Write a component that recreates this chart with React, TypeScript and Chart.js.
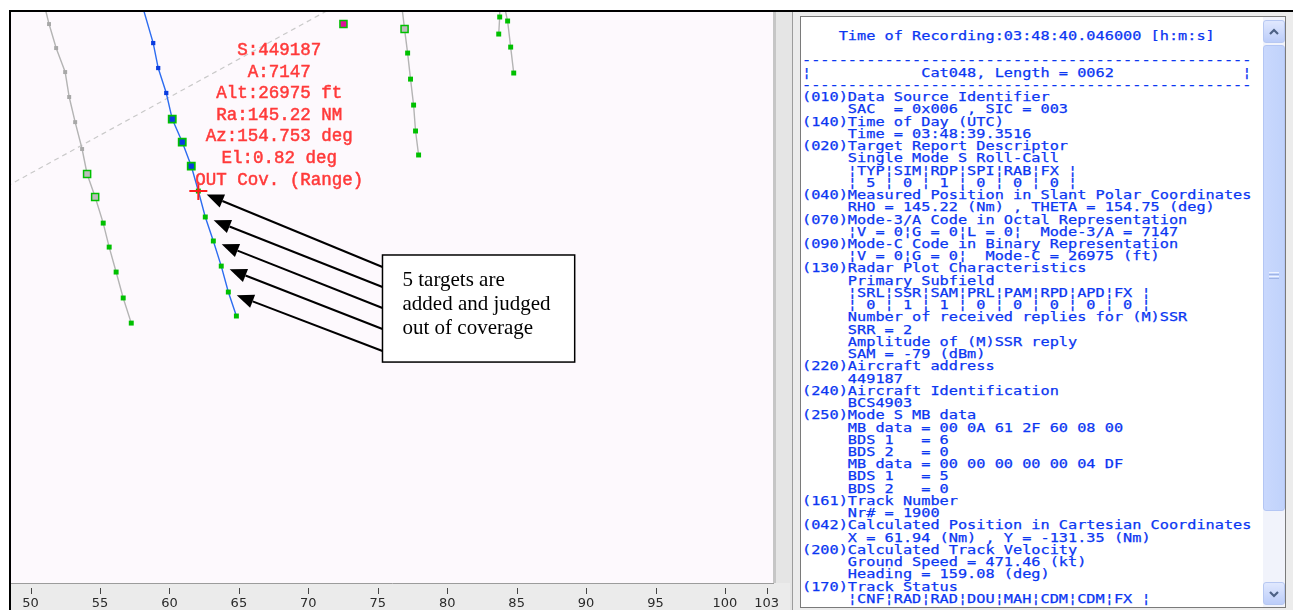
import React, { useEffect, useRef } from "react";
import { Chart, registerables } from "chart.js";

Chart.register(...registerables);

// ---------- axis ----------
const X_MIN = 48.59;
const X_MAX = 103.46;
const X_TICKS = [50, 55, 60, 65, 70, 75, 80, 85, 90, 95, 100, 103];
const Y_MIN = -159.61;
const Y_MAX = -118.44;

// ---------- tracks (NM, Cartesian) ----------
const TRACK_A_X = [50.9, 51.33, 51.84, 52.49, 52.78, 53.21, 53.71, 54.07, 54.65, 55.23, 55.66, 56.16, 56.67, 57.25];
const TRACK_A_Y = [-117.58, -119.31, -121.04, -122.77, -124.57, -126.38, -128.32, -130.12, -131.78, -133.66, -135.39, -137.19, -139.06, -140.87];
const TRACK_A_KIND = ["none", "psr", "psr", "psr", "psr", "psr", "psr", "hollow", "hollow", "ssr", "ssr", "ssr", "ssr", "ssr"];

const TRACK_B_X = [57.93, 58.83, 59.19, 59.77, 60.2, 60.92, 61.57, 62.08, 62.58, 63.16, 63.73, 64.24, 64.82];
const TRACK_B_Y = [-117.58, -120.68, -122.48, -124.28, -126.16, -127.82, -129.55, -131.35, -133.22, -134.95, -136.76, -138.63, -140.36];
const TRACK_B_KIND = ["none", "track", "track", "track", "tracked", "tracked", "tracked", "ssr", "ssr", "ssr", "ssr", "ssr", "ssr"];
const TARGET_INDEX = 7;
const ARROW_INDICES = [7, 8, 9, 10, 11];

const PLOT_C_X = [72.53];
const PLOT_C_Y = [-119.31];
const PLOT_C_KIND = ["magenta"];

const TRACK_D_X = [76.68, 76.93, 77.15, 77.36, 77.58, 77.72, 77.94];
const TRACK_D_Y = [-117.58, -119.67, -121.4, -123.28, -125.15, -127.02, -128.75];
const TRACK_D_KIND = ["none", "hollow", "ssr", "ssr", "ssr", "ssr", "ssr"];

const TRACK_E_X = [83.78, 83.78, 83.71];
const TRACK_E_Y = [-117.58, -118.8, -120.03];
const TRACK_E_KIND = ["none", "ssr", "ssr"];

const TRACK_F_X = [84.02, 84.35, 84.57, 84.79];
const TRACK_F_Y = [-117.58, -119.09, -120.97, -122.84];
const TRACK_F_KIND = ["none", "ssr", "ssr", "ssr"];

const RANGE_RING_X = [47.73, 72.75];
const RANGE_RING_Y = [-131.32, -117.58];

// ---------- annotations ----------
const TARGET_LABEL = ["S:449187", "A:7147", "Alt:26975 ft", "Ra:145.22 NM", "Az:154.753 deg", "El:0.82 deg", "OUT Cov. (Range)"];
const NOTE_LINES = ["5 targets are", "added and judged", "out of coverage"];
const NOTE_BOX_X = [75.34, 89.18];
const NOTE_BOX_Y = [-135.96, -143.68];
const ARROW_TAIL_OFFSETS = [12, 32, 53, 74, 96];

// ---------- decoded record text ----------
const RECORD_LINES = [
  "    Time of Recording:03:48:40.046000 [h:m:s]",
  "",
  "-------------------------------------------------",
  "¦            Cat048, Length = 0062              ¦",
  "-------------------------------------------------",
  "(010)Data Source Identifier",
  "     SAC  = 0x006 , SIC = 003",
  "(140)Time of Day (UTC)",
  "     Time = 03:48:39.3516",
  "(020)Target Report Descriptor",
  "     Single Mode S Roll-Call",
  "     ¦TYP¦SIM¦RDP¦SPI¦RAB¦FX ¦",
  "     ¦ 5 ¦ 0 ¦ 1 ¦ 0 ¦ 0 ¦ 0 ¦",
  "(040)Measured Position in Slant Polar Coordinates",
  "     RHO = 145.22 (Nm) , THETA = 154.75 (deg)",
  "(070)Mode-3/A Code in Octal Representation",
  "     ¦V = 0¦G = 0¦L = 0¦  Mode-3/A = 7147",
  "(090)Mode-C Code in Binary Representation",
  "     ¦V = 0¦G = 0¦  Mode-C = 26975 (ft)",
  "(130)Radar Plot Characteristics",
  "     Primary Subfield",
  "     ¦SRL¦SSR¦SAM¦PRL¦PAM¦RPD¦APD¦FX ¦",
  "     ¦ 0 ¦ 1 ¦ 1 ¦ 0 ¦ 0 ¦ 0 ¦ 0 ¦ 0 ¦",
  "     Number of received replies for (M)SSR",
  "     SRR = 2",
  "     Amplitude of (M)SSR reply",
  "     SAM = -79 (dBm)",
  "(220)Aircraft address",
  "     449187",
  "(240)Aircraft Identification",
  "     BCS4903",
  "(250)Mode S MB data",
  "     MB data = 00 0A 61 2F 60 08 00",
  "     BDS 1   = 6",
  "     BDS 2   = 0",
  "     MB data = 00 00 00 00 00 04 DF",
  "     BDS 1   = 5",
  "     BDS 2   = 0",
  "(161)Track Number",
  "     Nr# = 1900",
  "(042)Calculated Position in Cartesian Coordinates",
  "     X = 61.94 (Nm) , Y = -131.35 (Nm)",
  "(200)Calculated Track Velocity",
  "     Ground Speed = 471.46 (kt)",
  "     Heading = 159.08 (deg)",
  "(170)Track Status",
  "     ¦CNF¦RAD¦RAD¦DOU¦MAH¦CDM¦CDM¦FX ¦",
];

// ---------- styles ----------
const KIND_STYLE: Record<string, { r: number; bg: string; bd: string; bw: number }> = {
  none: { r: 0, bg: "rgba(0,0,0,0)", bd: "rgba(0,0,0,0)", bw: 0 },
  psr: { r: 2.8, bg: "#a8a8a8", bd: "#a8a8a8", bw: 0 },
  hollow: { r: 5, bg: "#bcbcbc", bd: "#00c000", bw: 1.5 },
  ssr: { r: 3.5, bg: "#00c000", bd: "#00b000", bw: 0 },
  track: { r: 3, bg: "#0a3ce0", bd: "#0a3ce0", bw: 0 },
  tracked: { r: 5, bg: "#0a3ce0", bd: "#00c000", bw: 1.8 },
  magenta: { r: 5, bg: "#e0109a", bd: "#00c000", bw: 1.5 },
};

function makeTrack(xs: number[], ys: number[], kinds: string[], lineColor: string, showLine = true) {
  return {
    data: xs.map((x, i) => ({ x, y: ys[i] })),
    showLine,
    borderColor: lineColor,
    borderWidth: 1.4,
    tension: 0,
    pointStyle: "rect",
    pointRadius: kinds.map((k) => KIND_STYLE[k].r),
    pointBackgroundColor: kinds.map((k) => KIND_STYLE[k].bg),
    pointBorderColor: kinds.map((k) => KIND_STYLE[k].bd),
    pointBorderWidth: kinds.map((k) => KIND_STYLE[k].bw),
  };
}

function drawArrow(ctx: CanvasRenderingContext2D, x1: number, y1: number, x2: number, y2: number) {
  const ang = Math.atan2(y2 - y1, x2 - x1);
  const L = 17;
  const W = 7;
  const c = Math.cos(ang);
  const s = Math.sin(ang);
  const bx = x2 - L * c;
  const by = y2 - L * s;
  ctx.beginPath();
  ctx.moveTo(x1, y1);
  ctx.lineTo(bx, by);
  ctx.lineWidth = 2;
  ctx.strokeStyle = "#000";
  ctx.stroke();
  ctx.beginPath();
  ctx.moveTo(x2, y2);
  ctx.lineTo(bx + W * s, by - W * c);
  ctx.lineTo(bx - W * s, by + W * c);
  ctx.closePath();
  ctx.fillStyle = "#000";
  ctx.fill();
}

const decorPlugin = {
  id: "decor",
  beforeDraw(chart: any) {
    const { ctx, chartArea, width, height } = chart;
    ctx.save();
    ctx.fillStyle = "#ebebeb";
    ctx.fillRect(0, 0, width, height);
    ctx.fillStyle = "#fdf9fd";
    ctx.fillRect(chartArea.left, chartArea.top, chartArea.right - chartArea.left, chartArea.bottom - chartArea.top);
    ctx.restore();
  },
  afterDatasetsDraw(chart: any) {
    const { ctx, chartArea } = chart;
    const xs = chart.scales.x;
    const ys = chart.scales.y;
    ctx.save();
    ctx.beginPath();
    ctx.rect(chartArea.left, chartArea.top, chartArea.right - chartArea.left, chartArea.bottom - chartArea.top);
    ctx.clip();

    // target label
    const tx = xs.getPixelForValue(TRACK_B_X[TARGET_INDEX]);
    const ty = ys.getPixelForValue(TRACK_B_Y[TARGET_INDEX]);
    ctx.font = '17.5px "Liberation Mono"';
    ctx.fillStyle = "#ff3a3a";
    ctx.strokeStyle = "#ff3a3a";
    ctx.lineWidth = 0.5;
    ctx.textAlign = "center";
    ctx.textBaseline = "middle";
    const n = TARGET_LABEL.length;
    TARGET_LABEL.forEach((t, i) => {
      const yy = ty - 11 - (n - 1 - i) * 21.6;
      ctx.fillText(t, tx + 81, yy);
      ctx.strokeText(t, tx + 81, yy);
    });

    // note box
    const bx0 = xs.getPixelForValue(NOTE_BOX_X[0]);
    const bx1 = xs.getPixelForValue(NOTE_BOX_X[1]);
    const by0 = ys.getPixelForValue(NOTE_BOX_Y[0]);
    const by1 = ys.getPixelForValue(NOTE_BOX_Y[1]);

    // arrows
    ARROW_INDICES.forEach((idx, i) => {
      const px = xs.getPixelForValue(TRACK_B_X[idx]);
      const py = ys.getPixelForValue(TRACK_B_Y[idx]);
      const tailX = bx0;
      const tailY = by0 + ARROW_TAIL_OFFSETS[i];
      const dx = tailX - px;
      const dy = tailY - py;
      const d = Math.hypot(dx, dy);
      const tipX = px + (dx / d) * 9;
      const tipY = py + (dy / d) * 9;
      drawArrow(ctx, tailX, tailY, tipX, tipY);
    });

    ctx.fillStyle = "#ffffff";
    ctx.fillRect(bx0, by0, bx1 - bx0, by1 - by0);
    ctx.strokeStyle = "#000";
    ctx.lineWidth = 1.5;
    ctx.strokeRect(bx0, by0, bx1 - bx0, by1 - by0);
    ctx.font = '21px "Liberation Serif"';
    ctx.fillStyle = "#000";
    ctx.textAlign = "left";
    ctx.textBaseline = "middle";
    NOTE_LINES.forEach((t, i) => {
      ctx.fillText(t, bx0 + 20, by0 + 25 + i * 24);
    });
    ctx.restore();
  },
  afterDraw(chart: any) {
    const { ctx, chartArea } = chart;
    const xs = chart.scales.x;
    ctx.save();
    ctx.strokeStyle = "#444";
    ctx.lineWidth = 1;
    X_TICKS.forEach((v) => {
      const px = Math.round(xs.getPixelForValue(v)) + 0.5;
      ctx.beginPath();
      ctx.moveTo(px, chartArea.bottom + 5);
      ctx.lineTo(px, chartArea.bottom + 11);
      ctx.stroke();
    });
    ctx.restore();
  },
};

function RadarChart() {
  const ref = useRef<HTMLCanvasElement | null>(null);
  useEffect(() => {
    if (!ref.current) return;
    const target = {
      data: [{ x: TRACK_B_X[TARGET_INDEX], y: TRACK_B_Y[TARGET_INDEX] }],
      showLine: false,
      pointStyle: "cross",
      pointRadius: 9,
      pointBorderColor: "#ff1e1e",
      pointBorderWidth: 2,
      pointBackgroundColor: "#ff1e1e",
    };
    const ring = {
      data: RANGE_RING_X.map((x, i) => ({ x, y: RANGE_RING_Y[i] })),
      showLine: true,
      borderColor: "#c9c9c9",
      borderWidth: 1.2,
      borderDash: [5, 4],
      pointRadius: 0,
    };
    const chart = new Chart(ref.current, {
      type: "scatter",
      data: {
        datasets: [
          target,
          makeTrack(TRACK_B_X, TRACK_B_Y, TRACK_B_KIND, "#2c6cf0"),
          makeTrack(TRACK_A_X, TRACK_A_Y, TRACK_A_KIND, "#b4b4b4"),
          makeTrack(TRACK_D_X, TRACK_D_Y, TRACK_D_KIND, "#b4b4b4"),
          makeTrack(TRACK_E_X, TRACK_E_Y, TRACK_E_KIND, "#b4b4b4"),
          makeTrack(TRACK_F_X, TRACK_F_Y, TRACK_F_KIND, "#b4b4b4"),
          makeTrack(PLOT_C_X, PLOT_C_Y, PLOT_C_KIND, "#b4b4b4", false),
          ring,
        ] as any,
      },
      options: {
        animation: false,
        responsive: true,
        maintainAspectRatio: false,
        events: [],
        layout: { autoPadding: false, padding: { left: 0, right: 17, top: 0, bottom: 0 } },
        plugins: { legend: { display: false }, tooltip: { enabled: false } },
        scales: {
          x: {
            type: "linear",
            min: X_MIN,
            max: X_MAX,
            afterBuildTicks: (s: any) => {
              s.ticks = X_TICKS.map((v) => ({ value: v }));
            },
            afterFit: (s: any) => {
              s.height = 27;
            },
            grid: { display: false },
            border: { display: true, color: "#9c9c9c", width: 1 },
            ticks: {
              autoSkip: false,
              maxRotation: 0,
              padding: 5,
              color: "#2a2a2a",
              font: { family: "DejaVu Sans", size: 13 },
              callback: (v: any) => String(v),
            },
          },
          y: { type: "linear", min: Y_MIN, max: Y_MAX, display: false },
        },
      } as any,
      plugins: [decorPlugin],
    });
    return () => chart.destroy();
  }, []);
  return <canvas ref={ref} />;
}

function ScrollButton({ top, up }: { top: number; up: boolean }) {
  return (
    <div
      style={{
        position: "absolute",
        left: 462,
        top,
        width: 20,
        height: 21,
        border: "1px solid #b7c8f2",
        borderRadius: 3,
        background: "linear-gradient(#e0e8fe, #bccdf9)",
      }}
    >
      <svg width="20" height="21" style={{ position: "absolute", left: 0, top: 0 }}>
        <polyline
          points={up ? "6,13 10,9 14,13" : "6,9 10,13 14,9"}
          fill="none"
          stroke="#4d6185"
          strokeWidth="2.2"
        />
      </svg>
    </div>
  );
}

export default function App() {
  return (
    <div
      style={{
        position: "fixed",
        left: 0,
        top: 0,
        width: 1293,
        height: 610,
        overflow: "hidden",
        background: "#ffffff",
      }}
    >
      <div style={{ position: "absolute", left: 11, top: 12, width: 779, height: 598 }}>
        <RadarChart />
      </div>
      <div style={{ position: "absolute", left: 9, top: 10, width: 1284, height: 2, background: "#000" }} />
      <div style={{ position: "absolute", left: 9, top: 10, width: 2, height: 600, background: "#000" }} />
      <div style={{ position: "absolute", left: 773, top: 12, width: 3, height: 571, background: "#c6c6c6" }} />
      <div style={{ position: "absolute", left: 776, top: 12, width: 14, height: 571, background: "#e5e5e5" }} />
      <div style={{ position: "absolute", left: 790, top: 12, width: 2, height: 598, background: "#e5e5e5" }} />
      <div style={{ position: "absolute", left: 792, top: 12, width: 1, height: 598, background: "#9c9c9c" }} />
      <div style={{ position: "absolute", left: 793, top: 12, width: 500, height: 598, background: "#ececec" }} />
      <div
        style={{
          position: "absolute",
          left: 800,
          top: 16,
          width: 484,
          height: 590,
          border: "1px solid #7a7a7a",
          background: "#ffffff",
          overflow: "hidden",
        }}
      >
        <pre
          style={{
            position: "absolute",
            left: 1,
            top: 13,
            margin: 0,
            fontFamily: '"DejaVu Sans Mono", monospace',
            fontSize: 13,
            lineHeight: "12.24px",
            color: "#0a36f2",
            WebkitTextStroke: "0.25px #0a36f2",
            transform: "scaleX(1.172)",
            transformOrigin: "0 0",
            whiteSpace: "pre",
          }}
        >
          {RECORD_LINES.join("\n")}
        </pre>
        <div style={{ position: "absolute", left: 462, top: 0, width: 22, height: 590, background: "#f1f3fb" }} />
        <ScrollButton top={3} up={true} />
        <div
          style={{
            position: "absolute",
            left: 462,
            top: 28,
            width: 20,
            height: 464,
            border: "1px solid #b4c6f4",
            borderRadius: 3,
            background: "linear-gradient(90deg, #c9d8fd, #c0d2fb)",
          }}
        >
          {[0, 1, 2, 3].map((i) => (
            <div
              key={i}
              style={{
                position: "absolute",
                left: 5,
                top: 226 + i * 2,
                width: 10,
                height: 1,
                background: i % 2 === 0 ? "#eef3ff" : "#9fb4e6",
              }}
            />
          ))}
        </div>
        <ScrollButton top={565} up={false} />
      </div>
    </div>
  );
}
